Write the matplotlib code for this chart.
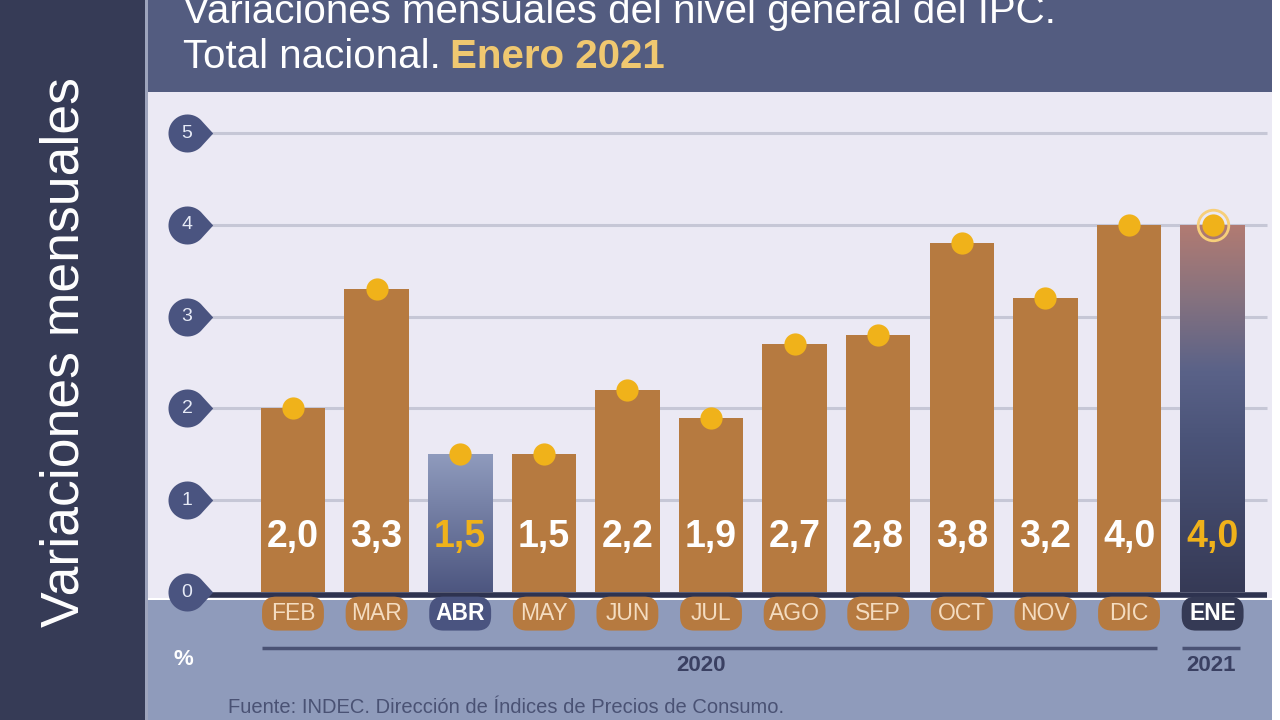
import numpy as np
import matplotlib
matplotlib.use("Agg")
import matplotlib.pyplot as plt
from matplotlib.patches import Rectangle, FancyBboxPatch
from matplotlib.path import Path
from matplotlib.colors import LinearSegmentedColormap

# data
months = ["FEB", "MAR", "ABR", "MAY", "JUN", "JUL", "AGO", "SEP", "OCT", "NOV", "DIC", "ENE"]
values = [2.0, 3.3, 1.5, 1.5, 2.2, 1.9, 2.7, 2.8, 3.8, 3.2, 4.0, 4.0]
highlight = ["ABR", "ENE"]
year_groups = [("2020", "FEB", "DIC"), ("2021", "ENE", "ENE")]
yticks = [0, 1, 2, 3, 4, 5]

title_1 = "Variaciones mensuales del nivel general del IPC."
title_2 = "Total nacional."
title_hl = "Enero 2021"
side_label = "Variaciones mensuales"
source = "Fuente: INDEC. Dirección de Índices de Precios de Consumo."

# colours
navy_dark = "#363b56"
title_bg = "#535c80"
plot_bg = "#ebe9f4"
bottom_bg = "#8f9bbb"
brown = "#b67a40"
cream = "#f4dcc0"
yellow = "#f0b21a"
badge = "#4a5480"
grid_c = "#c6c7d6"

plt.rcParams["font.family"] = ["Liberation Sans", "DejaVu Sans"]

W, H = 1280, 720
fig = plt.figure(figsize=(12.8, 7.2), dpi=100, facecolor="white")


def px_rect(x0, y0, x1, y1, color):
    fig.add_artist(Rectangle((x0 / W, 1 - y1 / H), (x1 - x0) / W, (y1 - y0) / H,
                             transform=fig.transFigure, facecolor=color,
                             edgecolor="none", zorder=0))


# background panels
px_rect(0, 0, 145, 720, navy_dark)
px_rect(145, 0, 148, 720, "#9ea4bc")
px_rect(148, 0, 1272, 92, title_bg)
px_rect(148, 92, 1272, 598, plot_bg)
px_rect(148, 600, 1272, 720, bottom_bg)

# axes spanning the plot + bottom band
ax = fig.add_axes([148 / W, 0, (1272 - 148) / W, 1 - 92 / H])
ax.set_facecolor("none")
for s in ax.spines.values():
    s.set_visible(False)
ax.set_xticks([])
ax.set_yticks([])

x = np.arange(len(months))
bw = 0.77

# grid lines
ax.hlines(yticks[1:], -1.27, 11.65, color=grid_c, lw=2.2, zorder=1)

bars = ax.bar(x, values, width=bw, color=brown, zorder=2)

grads = {
    "ABR": LinearSegmentedColormap.from_list("abr", ["#4d5680", "#8f9bbd"]),
    "ENE": LinearSegmentedColormap.from_list(
        "ene", [(0, "#363a56"), (0.42, "#4b5479"), (0.6, "#5a6288"),
                (0.8, "#86727f"), (1, "#b27b72")]),
}
for b, m, v in zip(bars, months, values):
    if m in grads:
        b.set_facecolor("none")
        grad = np.linspace(0, 1, 256).reshape(-1, 1)
        im = ax.imshow(grad, cmap=grads[m], origin="lower", aspect="auto",
                       extent=(b.get_x(), b.get_x() + bw, 0, v), zorder=2)
        im.set_clip_path(b)
ax.set_xlim(-1.734, 11.71)
ax.set_ylim(-1.394, 5.447)

# dots on top
ax.plot(x, values, "o", color=yellow, ms=16, mec="none", zorder=4)
ene = months.index("ENE")
ax.plot(x[ene], values[ene], "o", mfc="none", mec="#f7cf7a", mew=2, ms=22, zorder=4)

# value labels
for xi, m, v in zip(x, months, values):
    ax.text(xi, 0.6, f"{v:.1f}".replace(".", ","), ha="center", va="center",
            fontsize=27, fontweight="bold",
            color=yellow if m in highlight else "white", zorder=5)

# zero axis line
ax.hlines(-0.027, -1.3, 11.65, color="#2e3350", lw=4, zorder=3)

# y tick badges: circle with a point to the right
ang = np.linspace(np.radians(38), np.radians(322), 40)
verts = np.column_stack([np.cos(ang), np.sin(ang)])
verts = np.vstack([verts, [[1.35, 0.0], verts[0]]])
tear = Path(verts, closed=True)
bx = -1.268
ax.plot([bx] * len(yticks), yticks, linestyle="none", marker=tear, ms=37,
        color=badge, mec="none", zorder=6, clip_on=False)
for t in yticks:
    ax.text(bx, t, str(t), ha="center", va="center", fontsize=14,
            color="#e6eaf6", zorder=7)

# month badges
asp = 83.6 / 91.8
for xi, m in zip(x, months):
    hl = m in highlight
    fc = (badge if m == "ABR" else "#353a55") if hl else brown
    p = FancyBboxPatch((xi - 0.37, -0.42), 0.74, 0.37,
                       boxstyle="round,pad=0,rounding_size=0.17",
                       mutation_aspect=asp, facecolor=fc, edgecolor="none",
                       zorder=3)
    ax.add_patch(p)
    ax.text(xi, -0.23, m, ha="center", va="center", fontsize=16.5,
            fontweight="bold" if hl else "normal",
            color="white" if hl else cream, zorder=4)

# year lines and labels
for label, a, b in year_groups:
    i0, i1 = months.index(a), months.index(b)
    x0, x1 = i0 - 0.37, i1 + 0.33
    ax.hlines(-0.61, x0, x1, color="#4a5274", lw=2.5, zorder=3)
    ax.text((x0 + x1) / 2 - (0.1 if i1 > i0 else 0), -0.8, label,
            ha="center", va="center", fontsize=16, fontweight="bold",
            color="#3a4062")

ax.text(-1.316, -0.74, "%", ha="center", va="center", fontsize=16,
        fontweight="bold", color="white")
ax.text(-0.78, -1.255, source, ha="left", va="center", fontsize=14.5,
        color="#4a5274")

# titles
fig.text(183 / W, 1 - 23 / H, title_1, ha="left", va="baseline",
         fontsize=29, color="white")
t2 = fig.text(183 / W, 1 - 68 / H, title_2, ha="left", va="baseline",
              fontsize=29, color="white")
ax.annotate(title_hl, xy=(1, 0), xycoords=t2, xytext=(7, 0),
            textcoords="offset points", ha="left", va="bottom",
            fontsize=29, fontweight="bold", color="#f0c870",
            annotation_clip=False)

fig.text(65 / W, 1 - 352 / H, side_label, rotation=90, ha="center",
         va="center", fontsize=38.5, color="white")

fig.savefig("out.png", dpi=100, facecolor="white")
